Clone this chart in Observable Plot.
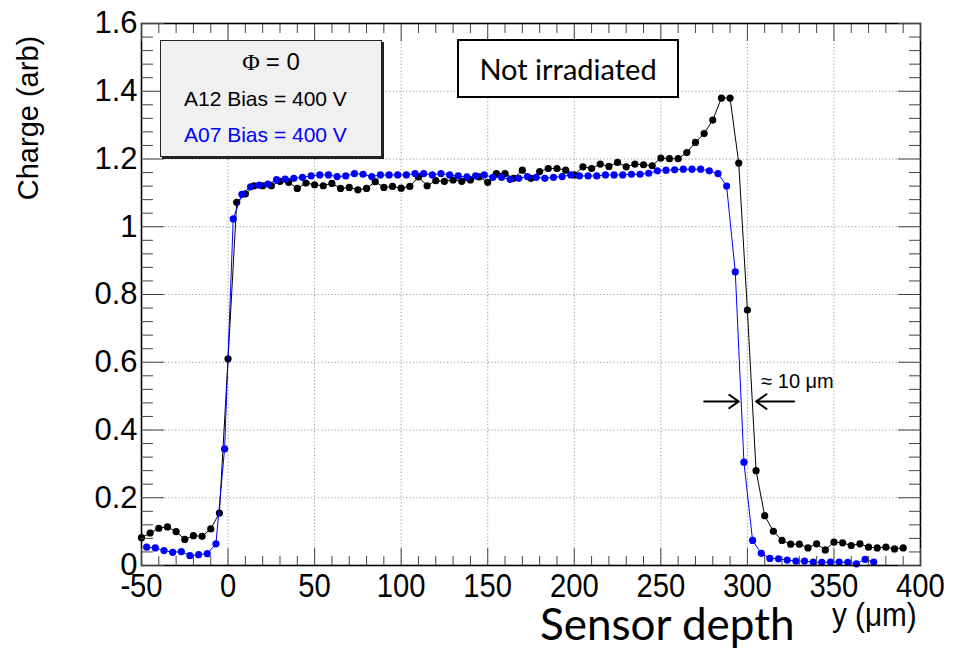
<!DOCTYPE html>
<html><head><meta charset="utf-8">
<script src="https://cdn.jsdelivr.net/npm/d3@7"></script>
<script src="https://cdn.jsdelivr.net/npm/@observablehq/plot@0.6"></script>
<style>
body{margin:0;background:#fff;}
#wrap{position:relative;width:954px;height:649px;overflow:hidden;}
.ann{position:absolute;white-space:nowrap;}
</style></head><body><div id="wrap"></div>
<script>
// A12 (black) sample
const blackX = [-50,-45,-40,-35,-30,-25,-20,-15,-10,-5,0,5,10,15,20,25,30,35,40,45,50,55,60,65,70,75,80,85,90,95,100,105,110,115,120,125,130,135,140,145,150,155,160,165,170,175,180,185,190,195,200,205,210,215,220,225,230,235,240,245,250,255,260,265,270,275,280,285,290,295,300,305,310,315,320,325,330,335,340,345,350,355,360,365,370,375,380,385,390];
const blackY = [0.082,0.096,0.110,0.114,0.100,0.077,0.088,0.086,0.108,0.155,
  0.610,1.072,1.097,1.121,1.121,1.121,1.134,1.131,1.113,
  1.129,1.124,1.121,1.128,1.113,1.116,1.109,1.113,1.133,1.116,
  1.119,1.114,1.119,1.147,1.121,1.136,1.134,1.138,1.134,1.138,
  1.147,1.131,1.157,1.157,1.143,1.167,1.143,1.163,1.172,1.172,
  1.167,1.153,1.177,1.172,1.185,1.178,1.190,1.177,1.185,1.183,
  1.180,1.203,1.201,1.201,1.219,
  1.249,1.275,1.315,1.380,1.380,1.188,0.754,0.280,0.147,0.101,0.074,0.063,0.063,0.052,0.064,0.046,0.069,0.067,0.059,0.064,0.054,0.052,0.054,0.049,0.052];
// A07 (blue) sample
const blueX = [-47,-42,-37,-32,-27,-22,-17,-12,-7,-2,3,8,13,18,23,28,33,38,43,48,53,58,63,68,73,78,83,88,93,98,103,108,113,118,123,128,133,138,143,148,153,158,163,168,173,178,183,188,193,198,203,208,213,218,223,228,233,238,243,248,253,258,263,268,273,278,283,288,293,298,303,308,313,318,323,328,333,338,343,348,353,358,363,368,373];
const blueY = [0.054,0.052,0.044,0.039,0.041,0.029,0.032,0.035,0.064,0.344,
  1.023,1.096,1.118,1.123,1.126,1.139,1.141,1.143,
  1.146,1.150,1.153,1.153,1.148,1.150,1.157,1.155,1.148,1.153,
  1.153,1.153,1.153,1.157,1.157,1.153,1.157,1.153,1.150,1.147,
  1.150,1.153,1.146,1.146,1.140,1.143,1.148,1.146,1.143,1.146,
  1.148,1.153,1.150,1.150,1.150,1.153,1.153,1.153,1.155,1.155,
  1.158,1.165,1.167,1.168,1.170,1.170,
  1.170,1.165,1.157,1.120,0.867,0.305,0.074,0.036,0.021,0.020,0.016,0.013,0.013,0.010,0.009,0.010,0.010,0.009,0.005,0.018,0.010];

const xTicks = [-50,0,50,100,150,200,250,300,350,400];
const xTickLabels = ["-50","0","50","100","150","200","250","300","350","400"];
const yTicks = [0,0.2,0.4,0.6,0.8,1,1.2,1.4,1.6];
const yTickLabels = ["0","0.2","0.4","0.6","0.8","1","1.2","1.4","1.6"];
const xMinor = d3.range(-50, 401, 10).filter(v => v % 50 !== 0);
const yMinor = d3.range(0, 41, 1).filter(v => v % 5 !== 0).map(v => v * 0.04);

const black = blackX.map((x, i) => ({x, y: blackY[i]}));
const blue = blueX.map((x, i) => ({x, y: blueY[i]}));

const arrows = [
  {x1: 275, x2: 295, y: 0.484},
  {x1: 327, x2: 305, y: 0.484}
];

const tickColor = "#444";
const chart = Plot.plot({
  width: 954, height: 649,
  marginLeft: 141, marginRight: 34, marginTop: 23, marginBottom: 84,
  style: {fontFamily: "Liberation Sans, Arial, sans-serif", background: "white"},
  x: {domain: [-50, 400]},
  y: {domain: [0, 1.6]},
  marks: [
    Plot.gridX(xTicks, {stroke: "#999", strokeOpacity: 1, strokeDasharray: "1.2,2.2"}),
    Plot.gridY(yTicks, {stroke: "#999", strokeOpacity: 1, strokeDasharray: "1.2,2.2"}),
    Plot.line(black, {x: "x", y: "y", stroke: "black", strokeWidth: 1}),
    Plot.dot(black, {x: "x", y: "y", r: 3.6, fill: "black", stroke: null}),
    Plot.line(blue, {x: "x", y: "y", stroke: "#0000ff", strokeWidth: 1}),
    Plot.dot(blue, {x: "x", y: "y", r: 3.6, fill: "#0000ff", stroke: null}),
    Plot.arrow(arrows, {x1: "x1", x2: "x2", y1: "y", y2: "y", stroke: "black", strokeWidth: 2, headLength: 11, headAngle: 70}),
    Plot.text(["≈ 10 μm"], {x: 308, y: 0.543, text: d => d, textAnchor: "start", fontSize: 20, fill: "black"}),
    Plot.frame({stroke: "black", strokeWidth: 1.6}),
    // inward ticks
    Plot.axisX(xTicks, {anchor: "bottom", tickSize: -17, fill: "none", label: null, stroke: tickColor}),
    Plot.axisX(xMinor, {anchor: "bottom", tickSize: -9, fill: "none", label: null, stroke: tickColor}),
    Plot.axisX(xTicks, {anchor: "top", tickSize: -17, fill: "none", label: null, stroke: tickColor}),
    Plot.axisX(xMinor, {anchor: "top", tickSize: -9, fill: "none", label: null, stroke: tickColor}),
    Plot.axisY(yTicks, {anchor: "left", tickSize: -23, fill: "none", label: null, stroke: tickColor}),
    Plot.axisY(yMinor, {anchor: "left", tickSize: -12, fill: "none", label: null, stroke: tickColor}),
    Plot.axisY(yTicks, {anchor: "right", tickSize: -23, fill: "none", label: null, stroke: tickColor}),
    Plot.axisY(yMinor, {anchor: "right", tickSize: -12, fill: "none", label: null, stroke: tickColor}),
    // labels
    Plot.axisX(xTicks, {anchor: "bottom", tickSize: 0, tickPadding: 7, label: null, fill: "black",
      tickFormat: (d, i) => xTickLabels[i], fontSize: 34}),
    Plot.axisY(yTicks, {anchor: "left", tickSize: 0, tickPadding: 4, label: null, fill: "black",
      tickFormat: (d, i) => yTickLabels[i], fontSize: 31})
  ]
});
const wrap = document.getElementById("wrap");
wrap.appendChild(chart);

// condense the x tick labels horizontally (narrow face like the reference)
const xLabelSet = new Set(xTickLabels);
d3.select(chart).selectAll("text").each(function() {
  const g = this.closest("g");
  const lab = g ? (g.getAttribute("aria-label") || "") : "";
  if (!lab.startsWith("x-axis")) return;
  if (!xLabelSet.has(this.textContent.trim())) return;
  const xa = this.getAttribute("x");
  const t = this.getAttribute("transform") || "";
  if (xa !== null && t === "") {
    const xv = +xa;
    this.setAttribute("transform", `translate(${xv},0) scale(0.86,1) translate(${-xv},0)`);
  } else {
    this.setAttribute("transform", t + " scale(0.86,1)");
  }
});

function ann(html, css) {
  const d = document.createElement("div");
  d.className = "ann";
  d.innerHTML = html;
  Object.assign(d.style, css);
  wrap.appendChild(d);
  return d;
}
// y axis title
ann("Charge (arb)", {left: "28px", top: "118px", transform: "translate(-50%,-50%) rotate(-90deg)",
  fontFamily: "Liberation Sans, Arial, sans-serif", fontSize: "29px", color: "black"});
// x axis titles
ann("Sensor depth", {left: "540px", top: "597px", fontFamily: "Lato, sans-serif", fontSize: "44px", color: "black"});
ann("y (μm)", {left: "832px", top: "596px", transformOrigin: "0 0", transform: "scale(0.9,1)",
  fontFamily: "Liberation Sans, Arial, sans-serif", fontSize: "33px", color: "black"});
// legend box
ann(`<div style="text-align:center;font-family:'Liberation Serif',serif;font-size:24px;margin-top:7px;">Φ <span style="font-family:'Liberation Sans',sans-serif">= 0</span></div>
<div style="font-size:21px;margin-top:11px;margin-left:23px;">A12 Bias = 400 V</div>
<div style="font-size:21px;margin-top:12px;margin-left:23px;color:#0000ff;">A07 Bias = 400 V</div>`,
  {left: "160px", top: "40px", width: "222px", height: "117px", background: "#f0f0f0",
   border: "1px solid #222", boxShadow: "2px 2px 0 #222", fontFamily: "Liberation Sans, Arial, sans-serif", boxSizing: "border-box"});
// Not irradiated box
ann("Not irradiated", {left: "457px", top: "39px", width: "222px", height: "59px", background: "white",
  border: "2px solid black", boxSizing: "border-box", textAlign: "center", lineHeight: "55px",
  fontFamily: "Lato, sans-serif", fontSize: "29px", color: "black"});
</script>
</body></html>
